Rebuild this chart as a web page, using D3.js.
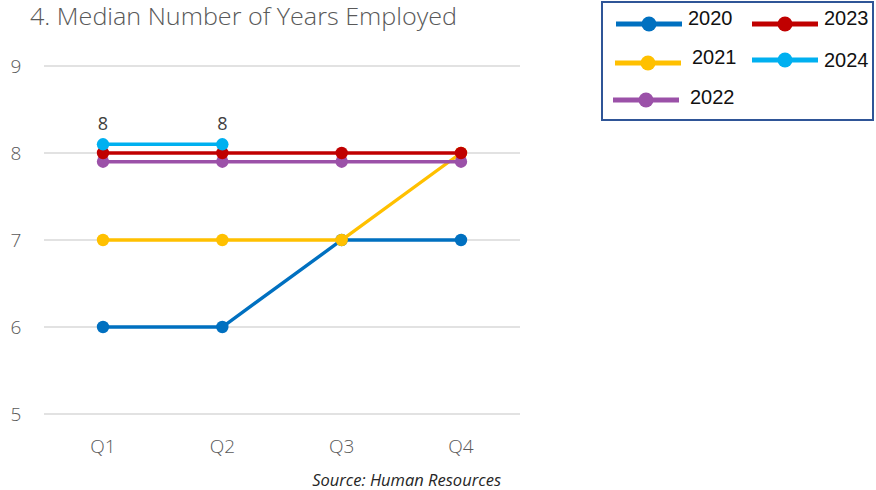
<!DOCTYPE html>
<html><head><meta charset="utf-8">
<script src="https://cdn.jsdelivr.net/npm/d3@7"></script>
<style>body{margin:0;background:#fff}svg{display:block}</style>
</head><body>
<svg id="c" width="876" height="490"></svg>
<script>
const categories = ["Q1","Q2","Q3","Q4"];
const yTicks = [5,6,7,8,9];
const series2020 = [6,6,7,7];
const series2021 = [7,7,7,8];
const series2022 = [7.9,7.9,7.9,7.9];
const series2023 = [8,8,8,8];
const series2024 = [8.1,8.1];
const labels2024 = ["8","8"];
const seriesNames = ["2020","2021","2022","2023","2024"];
const colors = ["#0070C0","#FFC000","#9B51A8","#C00000","#00B0F0"];

const svg = d3.select("#c");
const font = "'Open Sans', sans-serif";
const x = d3.scalePoint().domain(categories).range([103,461]).padding(0);
const y = d3.scaleLinear().domain([5,9]).range([414,66]);

svg.append("text").attr("x",30).attr("y",25).attr("font-family",font).attr("font-size",24)
  .attr("font-weight",300).attr("fill","#595959").attr("textLength",427).attr("lengthAdjust","spacingAndGlyphs")
  .text("4. Median Number of Years Employed");

// gridlines
svg.append("g").selectAll("line").data(yTicks).join("line")
  .attr("x1",44).attr("x2",520).attr("y1",d=>y(d)).attr("y2",d=>y(d))
  .attr("stroke","#d9d9d9").attr("stroke-width",1.3);
svg.append("g").selectAll("text").data(yTicks).join("text")
  .attr("x",16).attr("y",d=>y(d)+7).attr("text-anchor","middle")
  .attr("font-family",font).attr("font-size",19).attr("font-weight",300).attr("fill","#595959").text(d=>d);
svg.append("g").selectAll("text").data(categories).join("text")
  .attr("x",d=>x(d)).attr("y",453).attr("text-anchor","middle")
  .attr("font-family",font).attr("font-size",19).attr("font-weight",300).attr("fill","#595959").text(d=>d);

const data = [series2020,series2021,series2022,series2023,series2024];
const drawOrder = [0,1,2,3,4];
const line = d3.line().x((d,i)=>x(categories[i])).y(d=>y(d));
drawOrder.forEach(k=>{
  const g = svg.append("g");
  g.append("path").attr("d",line(data[k])).attr("fill","none")
    .attr("stroke",colors[k]).attr("stroke-width",3.4);
  g.selectAll("circle").data(data[k]).join("circle")
    .attr("cx",(d,i)=>x(categories[i])).attr("cy",d=>y(d)).attr("r",6.2)
    .attr("fill",colors[k]);
});
svg.append("g").selectAll("text").data(series2024).join("text")
  .attr("x",(d,i)=>x(categories[i])).attr("y",d=>y(d)-14).attr("text-anchor","middle")
  .attr("font-family",font).attr("font-size",18).attr("fill","#404040")
  .text((d,i)=>labels2024[i]);

svg.append("text").attr("x",501).attr("y",486).attr("text-anchor","end")
  .attr("font-family",font).attr("font-size",16.5).attr("font-style","italic")
  .attr("fill","#262626").text("Source: Human Resources");

// legend
svg.append("rect").attr("x",602).attr("y",2).attr("width",271).attr("height",118)
  .attr("fill","#fff").attr("stroke","#2F5597").attr("stroke-width",2);
const legendPos = [
  {lx:616,ly:24,tx:688,ty:25},
  {lx:615,ly:63,tx:692,ty:64},
  {lx:613,ly:100,tx:690,ty:104},
  {lx:752,ly:24,tx:824,ty:25},
  {lx:752,ly:60,tx:824,ty:67}
];
seriesNames.forEach((n,k)=>{
  const p = legendPos[k];
  const g = svg.append("g");
  g.append("line").attr("x1",p.lx).attr("x2",p.lx+66).attr("y1",p.ly).attr("y2",p.ly)
    .attr("stroke",colors[k]).attr("stroke-width",5);
  g.append("circle").attr("cx",p.lx+33).attr("cy",p.ly).attr("r",7.5).attr("fill",colors[k]);
  g.append("text").attr("x",p.tx).attr("y",p.ty).attr("font-family","'Liberation Sans', Arial, sans-serif")
    .attr("font-size",20).attr("fill","#111").text(n);
});
</script>
</body></html>
